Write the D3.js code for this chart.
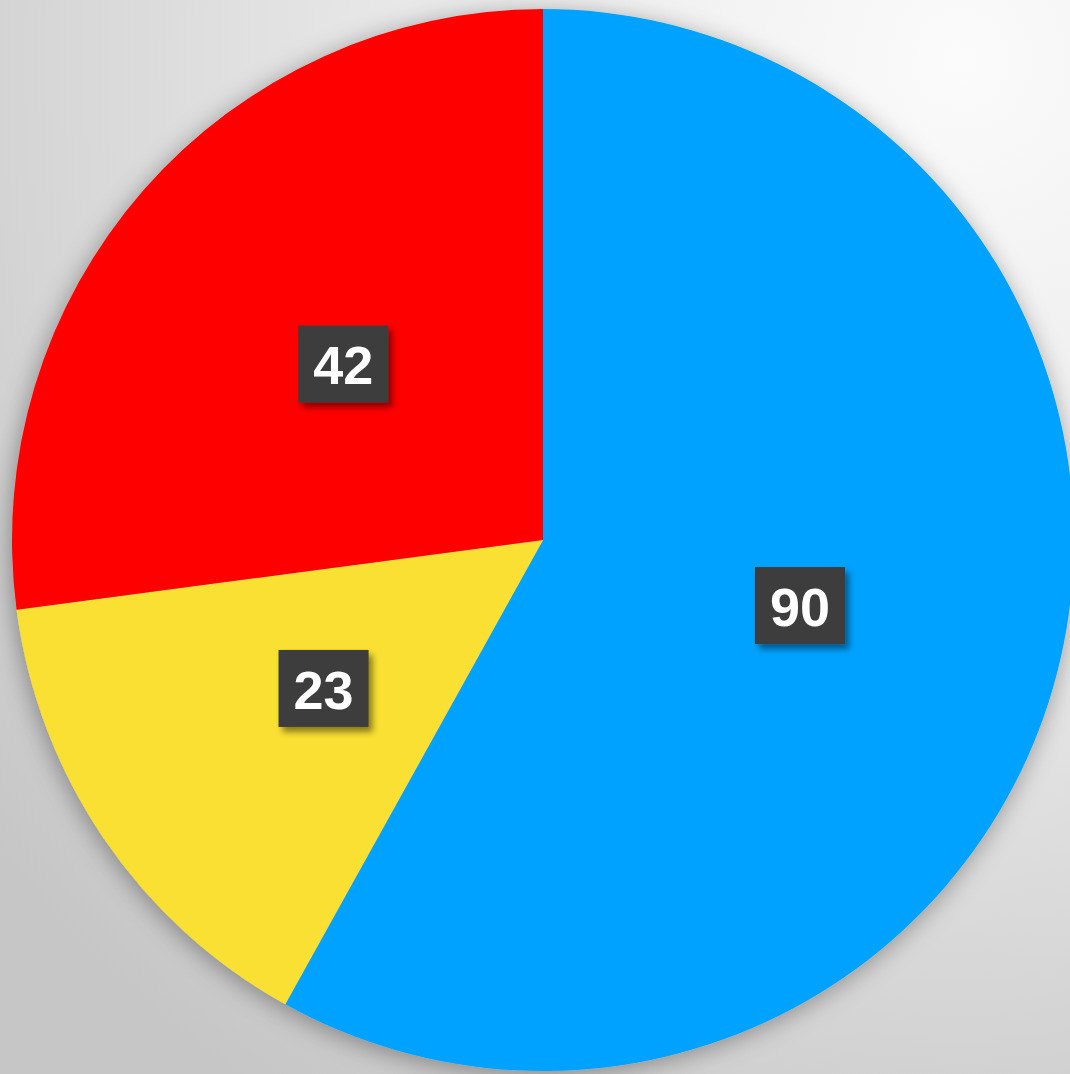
<!DOCTYPE html>
<html>
<head>
<meta charset="utf-8">
<script src="https://cdn.jsdelivr.net/npm/d3@7"></script>
<style>
  html, body { margin: 0; padding: 0; background: #e0e0e0; }
  svg { display: block; }
</style>
</head>
<body>
<script>
const categories = ["Blue", "Yellow", "Red"];
const values = [90, 23, 42];
const colors = ["#00A2FF", "#F9E033", "#FF0000"];

const W = 1070, H = 1074;
const cx = 543, cy = 540, R = 531;

const svg = d3.select("body").append("svg").attr("width", W).attr("height", H);
const defs = svg.append("defs");

const bg = defs.append("radialGradient").attr("id", "bg")
  .attr("gradientUnits", "userSpaceOnUse")
  .attr("cx", 960).attr("cy", 60).attr("r", 1250);
bg.append("stop").attr("offset", "0%").attr("stop-color", "#fbfbfb");
bg.append("stop").attr("offset", "45%").attr("stop-color", "#e8e8e8");
bg.append("stop").attr("offset", "100%").attr("stop-color", "#c6c6c6");

const sh = defs.append("filter").attr("id", "pieShadow")
  .attr("x", "-20%").attr("y", "-20%").attr("width", "140%").attr("height", "140%");
sh.append("feDropShadow").attr("dx", -2).attr("dy", 4).attr("stdDeviation", 12)
  .attr("flood-color", "#000").attr("flood-opacity", 0.35);

const lsh = defs.append("filter").attr("id", "lblShadow")
  .attr("x", "-30%").attr("y", "-30%").attr("width", "170%").attr("height", "170%");
lsh.append("feDropShadow").attr("dx", 4).attr("dy", 5).attr("stdDeviation", 3)
  .attr("flood-color", "#000").attr("flood-opacity", 0.45);

svg.append("rect").attr("width", W).attr("height", H).attr("fill", "url(#bg)");

const pie = d3.pie().sort(null).value(d => d)(values);
const arc = d3.arc().innerRadius(0).outerRadius(R);

const g = svg.append("g").attr("transform", `translate(${cx},${cy})`);
g.append("g").attr("filter", "url(#pieShadow)")
  .selectAll("path").data(pie).join("path")
  .attr("d", arc)
  .attr("fill", (d, i) => colors[i]);

const lbl = g.selectAll("g.lbl").data(pie).join("g")
  .attr("class", "lbl")
  .attr("transform", d => `translate(${arc.centroid(d)})`);

lbl.append("rect").attr("class", "box")
  .attr("fill", "#3e3e3e")
  .attr("filter", "url(#lblShadow)");

lbl.append("text")
  .attr("text-anchor", "middle")
  .attr("dy", "0.36em")
  .attr("fill", "#ffffff")
  .attr("font-family", "'Liberation Sans', Arial, sans-serif")
  .attr("font-weight", "bold")
  .attr("font-size", 54)
  .text(d => d.data);

lbl.each(function() {
  const t = d3.select(this).select("text").node().getBBox();
  const w = t.width + 30, h = 77;
  d3.select(this).select("rect")
    .attr("x", -w / 2).attr("y", -h / 2 - 1).attr("width", w).attr("height", h);
});
</script>
</body>
</html>
